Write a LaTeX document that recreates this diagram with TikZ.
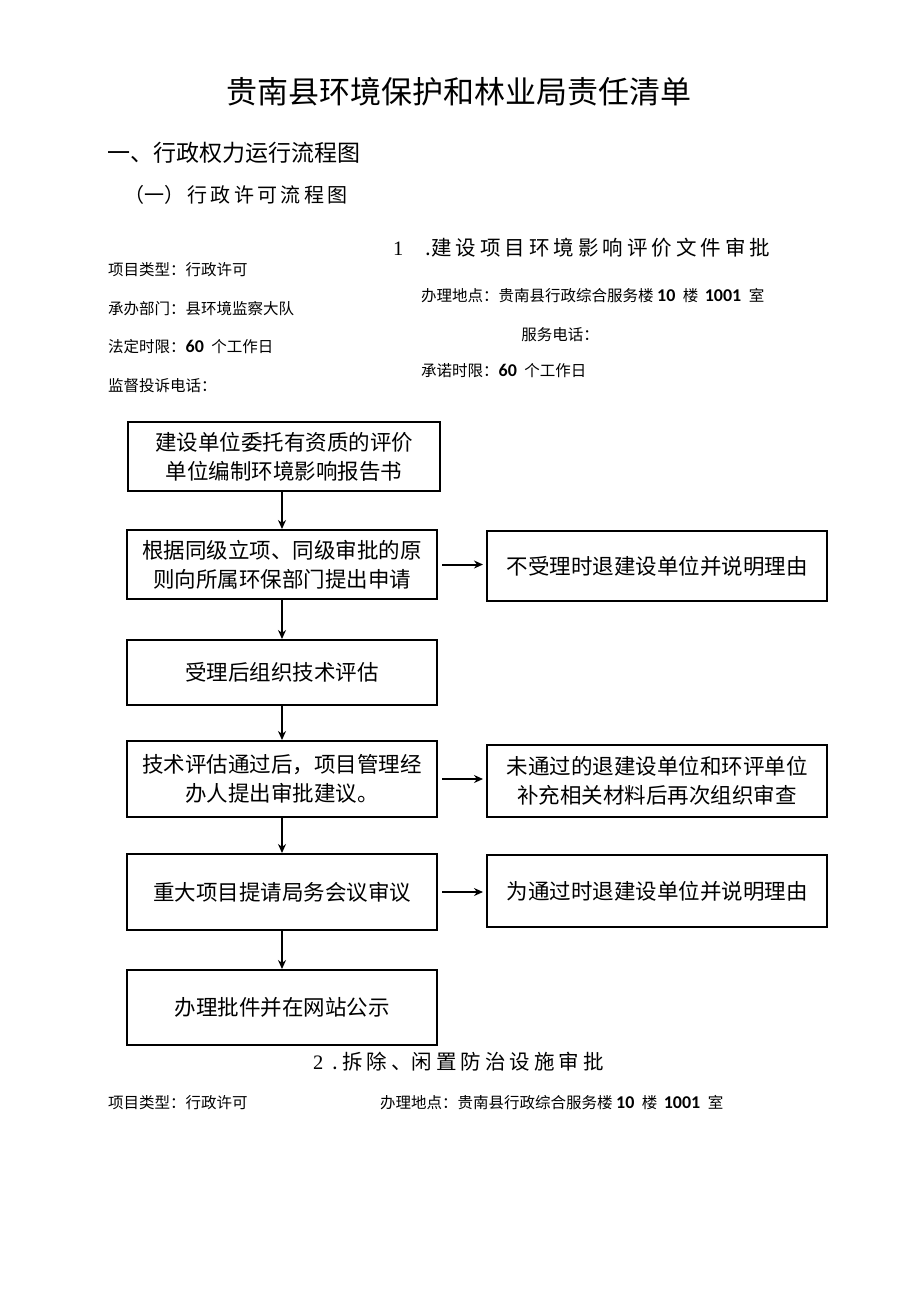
\documentclass[tikz,border=0pt]{standalone}
\usepackage{fontspec}
\setmainfont{Noto Sans CJK SC}
\newfontfamily\cjk{Noto Sans CJK SC}
\newfontfamily\digs{Carlito}
\newfontfamily\serifd{Liberation Serif}
\usetikzlibrary{arrows.meta}
\newcommand{\dg}[1]{{\digs\bfseries\fontsize{18}{18}\selectfont #1}}
\tikzset{
  x=1pt, y=-1pt,
  flowbox/.style={draw=black, line width=2pt, align=center, inner sep=0pt,
    font=\fontsize{21.5}{29}\selectfont\cjk},
  flowarrow/.style={-{Stealth[length=9pt,width=8pt]}, line width=2pt},
  info/.style={anchor=west, inner sep=0pt, font=\fontsize{15.5}{17}\selectfont\cjk},
  head/.style={inner sep=0pt, font=\fontsize{20.5}{22}\selectfont\cjk}
}
\begin{document}
\begin{tikzpicture}
\useasboundingbox (0,0) rectangle (920,1301);
\fill[white] (0,0) rectangle (920,1301);

\node[inner sep=0pt, font=\fontsize{31}{33}\selectfont\cjk] (title) at (459,92) {贵南县环境保护和林业局责任清单};
\node[inner sep=0pt, anchor=west, font=\fontsize{23}{25}\selectfont\cjk] (sec1) at (107,153) {一、行政权力运行流程图};
\node[inner sep=0pt, anchor=west, font=\fontsize{20}{22}\selectfont\cjk] (sub1) at (124,195) {（一）\,行\,政\,许\,可\,流\,程\,图};

\node[head, anchor=west] (h1) at (393,248) {{\serifd 1}\hspace{22pt}.建\hspace{4pt}设\hspace{4pt}项\hspace{4pt}目\hspace{4pt}环\hspace{4pt}境\hspace{4pt}影\hspace{4pt}响\hspace{4pt}评\hspace{4pt}价\hspace{4pt}文\hspace{4pt}件\hspace{4pt}审\hspace{4pt}批};

\node[info] (i1) at (108,270) {项目类型：行政许可};
\node[info] (i2) at (108,309) {承办部门：县环境监察大队};
\node[info] (i3) at (108,347) {法定时限：\dg{60}\hspace{4pt} 个工作日};
\node[info] (i4) at (108,386) {监督投诉电话：};
\node[info] (i5) at (421,296) {办理地点：贵南县行政综合服务楼 \dg{10}\hspace{4pt} 楼 \hspace{3pt}\dg{1001}\hspace{4pt} 室};
\node[info, anchor=center] (i6) at (560,335) {服务电话：};
\node[info] (i7) at (421,371) {承诺时限：\dg{60}\hspace{4pt} 个工作日};

\node[flowbox, minimum width=312pt, minimum height=69pt] (b1) at (284,456.5) {建设单位委托有资质的评价\\单位编制环境影响报告书};
\node[flowbox, minimum width=310pt, minimum height=69pt] (b2) at (282,564.5) {根据同级立项、同级审批的原\\则向所属环保部门提出申请};
\node[flowbox, minimum width=340pt, minimum height=70pt] (r1) at (657,566) {不受理时退建设单位并说明理由};
\node[flowbox, minimum width=310pt, minimum height=65pt] (b3) at (282,672.5) {受理后组织技术评估};
\node[flowbox, minimum width=310pt, minimum height=76pt] (b4) at (282,779) {技术评估通过后，项目管理经\\办人提出审批建议。};
\node[flowbox, minimum width=340pt, minimum height=72pt] (r2) at (657,781) {未通过的退建设单位和环评单位\\补充相关材料后再次组织审查};
\node[flowbox, minimum width=310pt, minimum height=76pt] (b5) at (282,892) {重大项目提请局务会议审议};
\node[flowbox, minimum width=340pt, minimum height=72pt] (r3) at (657,891) {为通过时退建设单位并说明理由};
\node[flowbox, minimum width=310pt, minimum height=75pt] (b6) at (282,1007.5) {办理批件并在网站公示};

\draw[flowarrow] (b1.south -| b2.north) -- (b2.north);
\draw[flowarrow] (b2) -- (b3);
\draw[flowarrow] (b3) -- (b4);
\draw[flowarrow] (b4) -- (b5);
\draw[flowarrow] (b5) -- (b6);
\draw[flowarrow, shorten <=4pt, shorten >=3pt] (b2.east) -- (b2.east -| r1.west);
\draw[flowarrow, shorten <=4pt, shorten >=3pt] (b4.east) -- (b4.east -| r2.west);
\draw[flowarrow, shorten <=4pt, shorten >=3pt] (b5.east) -- (b5.east -| r3.west);

\node[head, anchor=west] (h2) at (313,1062) {{\serifd 2}\hspace{9pt}.\hspace{4pt}拆\hspace{4pt}除\hspace{4pt}、闲\hspace{4pt}置\hspace{4pt}防\hspace{4pt}治\hspace{4pt}设\hspace{4pt}施\hspace{4pt}审\hspace{4pt}批};
\node[info] (j1) at (108,1103) {项目类型：行政许可};
\node[info] (j2) at (380,1103) {办理地点：贵南县行政综合服务楼 \dg{10}\hspace{4pt} 楼 \hspace{3pt}\dg{1001}\hspace{4pt} 室};
\end{tikzpicture}
\end{document}
